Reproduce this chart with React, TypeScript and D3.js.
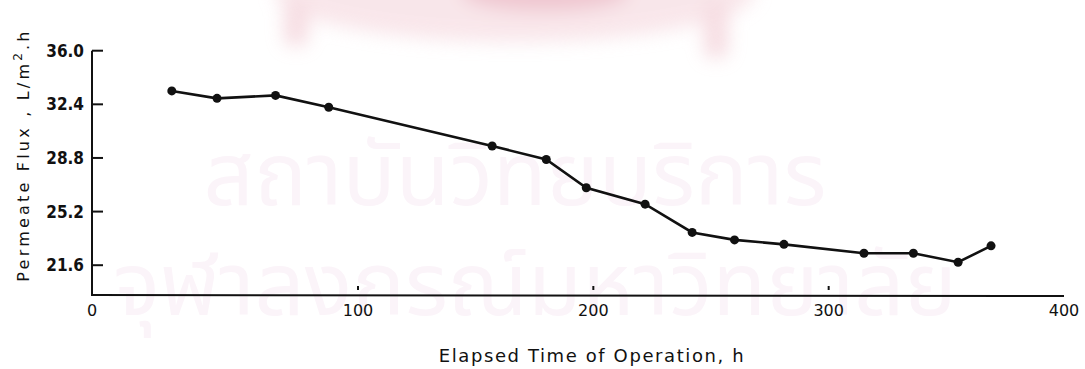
import React from "react";
import * as d3 from "d3";

// Elapsed operating time (h) and permeate flux (L/m².h)
const timeHours = [30, 47, 69, 89, 157, 180, 197, 222, 242, 260, 281, 315, 336, 355, 369];
const fluxValues = [33.3, 32.8, 33.0, 32.2, 29.6, 28.7, 26.8, 25.7, 23.8, 23.3, 23.0, 22.4, 22.4, 21.8, 22.9];

const yTickValues = [21.6, 25.2, 28.8, 32.4, 36.0];
const xTickValues = [0, 100, 200, 300, 400];
const xMinorMarks = [100, 200, 300];

const xTitle = "Elapsed Time of Operation, h";
const watermarkTop = "สถาบันวิทยบริการ";
const watermarkBottom = "จุฬาลงกรณ์มหาวิทยาลัย";

const W = 1085;
const H = 369;

export default function App() {
  // the hand-drawn time axis is stretched between 0 and 100 h
  const x = d3.scaleLinear().domain([0, 100, 400]).range([92, 358, 1064]);
  const y = d3.scaleLinear().domain([19.6, 36.0]).range([295, 50.7]);

  const line = d3
    .line<number>()
    .x((_, i) => x(timeHours[i]))
    .y((d) => y(d));

  const x0 = x(0);
  const yBase = y(19.6);

  return (
    <svg
      width={W}
      height={H}
      style={{ position: "absolute", left: 0, top: 0, display: "block", background: "#fff" }}
    >
      <defs>
        <filter id="soft" x="-20%" y="-50%" width="140%" height="200%">
          <feGaussianBlur stdDeviation="9" />
        </filter>
      </defs>

      {/* faint emblem and library stamp behind the plot */}
      <g filter="url(#soft)" opacity={0.55}>
        <ellipse cx={515} cy={-8} rx={240} ry={50} fill="#f4d3da" />
        <ellipse cx={545} cy={-8} rx={85} ry={20} fill="#e39aab" />
        <rect x={284} y={0} width={24} height={46} rx={8} fill="#efc1cb" />
        <rect x={704} y={0} width={24} height={58} rx={8} fill="#efc1cb" />
      </g>
      <g fill="#fbf4f9" fontFamily="'Noto Sans Thai', 'Noto Sans', sans-serif" fontSize={88}>
        <text x={515} y={205} textAnchor="middle">{watermarkTop}</text>
        <text x={535} y={315} textAnchor="middle">{watermarkBottom}</text>
      </g>

      {/* axes */}
      <g stroke="#111" strokeWidth={2} fill="none">
        <line x1={x0} y1={y(36.0)} x2={x0} y2={yBase} />
        <line x1={x0 - 1} y1={yBase} x2={x(400)} y2={yBase + 1} />
        {yTickValues.map((v) => (
          <line key={v} x1={x0} y1={y(v)} x2={x0 + 11} y2={y(v)} />
        ))}
        {xMinorMarks.map((v) => (
          <line key={v} x1={x(v)} y1={yBase - 9} x2={x(v)} y2={yBase - 5} />
        ))}
      </g>

      {/* y tick labels */}
      <g fontFamily="'DejaVu Sans Condensed', 'DejaVu Sans', sans-serif" fontWeight="bold" fontSize={17} fill="#111">
        {yTickValues.map((v) => (
          <text key={v} x={x0 - 8} y={y(v) + 6} textAnchor="end">
            {v.toFixed(1)}
          </text>
        ))}
      </g>

      {/* x tick labels */}
      <g fontFamily="'DejaVu Sans', sans-serif" fontSize={16} fill="#111">
        {xTickValues.map((v) => (
          <text key={v} x={x(v)} y={yBase + 21} textAnchor="middle">
            {v}
          </text>
        ))}
      </g>

      {/* axis titles */}
      <text
        x={592}
        y={362}
        textAnchor="middle"
        fontFamily="'DejaVu Sans', sans-serif"
        fontSize={18}
        letterSpacing={1.6}
        fill="#111"
      >
        {xTitle}
      </text>
      <text
        transform={`translate(29, 155) rotate(-90)`}
        textAnchor="middle"
        fontFamily="'DejaVu Sans', sans-serif"
        fontSize={16}
        letterSpacing={3.2}
        fill="#111"
      >
        Permeate Flux , L/m<tspan dy={-7} fontSize={12}>2</tspan>
        <tspan dy={7}>.h</tspan>
      </text>

      {/* flux curve */}
      <path d={line(fluxValues) ?? ""} fill="none" stroke="#111" strokeWidth={2.6} />
      <g fill="#111">
        {fluxValues.map((v, i) => (
          <circle key={i} cx={x(timeHours[i])} cy={y(v)} r={4.5} />
        ))}
      </g>
    </svg>
  );
}
